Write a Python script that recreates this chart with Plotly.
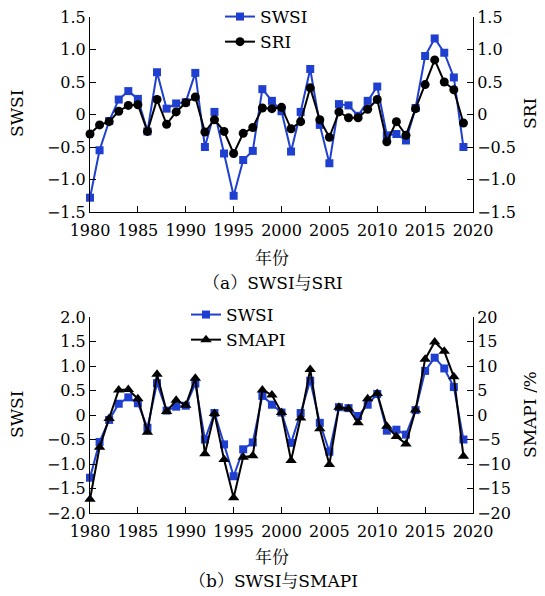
import plotly.graph_objects as go

years = list(range(1980, 2020))
swsi = [-1.28, -0.55, -0.10, 0.23, 0.36, 0.24, -0.26, 0.65, 0.09, 0.17,
        0.19, 0.64, -0.50, 0.04, -0.60, -1.25, -0.70, -0.56, 0.39, 0.21,
        0.05, -0.57, 0.04, 0.70, -0.16, -0.75, 0.16, 0.14, -0.02, 0.21,
        0.43, -0.32, -0.30, -0.40, 0.10, 0.90, 1.17, 0.95, 0.57, -0.50]
sri = [-0.30, -0.16, -0.11, 0.05, 0.14, 0.15, -0.26, 0.23, -0.15, 0.04,
       0.18, 0.27, -0.27, -0.08, -0.26, -0.60, -0.29, -0.20, 0.10, 0.09,
       0.11, -0.22, -0.11, 0.41, -0.08, -0.35, 0.04, -0.05, -0.05, 0.08,
       0.23, -0.42, -0.11, -0.32, 0.09, 0.46, 0.84, 0.50, 0.38, -0.13]
smapi = [-17.2, -6.6, -0.7, 5.1, 5.2, 3.3, -3.5, 8.3, 0.7, 3.0,
         2.0, 7.5, -7.9, 0.3, -9.1, -16.9, -8.6, -8.3, 5.1, 4.1,
         0.5, -9.3, -0.6, 9.3, -2.8, -10.1, 1.6, 1.3, -1.6, 3.3,
         4.4, -2.3, -4.4, -5.9, 1.0, 11.4, 14.9, 13.0, 7.8, -8.4]

xticks = [1980, 1985, 1990, 1995, 2000, 2005, 2010, 2015, 2020]
sri_ticks = [-1.5, -1.0, -0.5, 0, 0.5, 1.0, 1.5]
sri_text = ["−1.5", "−1.0", "−0.5", "0", "0.5", "1.0", "1.5"]
swsi2_ticks = [-2.0, -1.5, -1.0, -0.5, 0, 0.5, 1.0, 1.5, 2.0]
swsi2_text = ["−2.0", "−1.5", "−1.0", "−0.5", "0", "0.5", "1.0", "1.5", "2.0"]
smapi_ticks = [-20, -15, -10, -5, 0, 5, 10, 15, 20]
smapi_text = ["−20", "−15", "−10", "−5", "0", "5", "10", "15", "20"]

BLUE = "#1f3fd0"
FONT = "DejaVu Serif, Noto Serif CJK SC, Noto Sans CJK SC"
FS = 16

fig = go.Figure()
fig.add_trace(go.Scatter(x=years, y=swsi, name="SWSI", mode="lines+markers",
                         line=dict(color=BLUE, width=2), marker=dict(symbol="square", size=8, color=BLUE),
                         xaxis="x", yaxis="y", legend="legend", cliponaxis=False))
fig.add_trace(go.Scatter(x=years, y=sri, name="SRI", mode="lines+markers",
                         line=dict(color="black", width=2), marker=dict(symbol="circle", size=9, color="black"),
                         xaxis="x", yaxis="y2", legend="legend", cliponaxis=False))
fig.add_trace(go.Scatter(x=years, y=swsi, name="SWSI", mode="lines+markers",
                         line=dict(color=BLUE, width=2), marker=dict(symbol="square", size=8, color=BLUE),
                         xaxis="x2", yaxis="y3", legend="legend2", cliponaxis=False))
fig.add_trace(go.Scatter(x=years, y=smapi, name="SMAPI", mode="lines+markers",
                         line=dict(color="black", width=2), marker=dict(symbol="triangle-up", size=10, color="black"),
                         xaxis="x2", yaxis="y4", legend="legend2", cliponaxis=False))

# the page body has an 8px margin: figure is drawn from (8, 8)
OFF = 8
W, H = 545 - OFF, 596 - OFF
L, R, T, B = 90 - OFF, W - (473 - OFF), 17 - OFF, H - (513 - OFF)
pw, ph = W - L - R, H - T - B

def px(sx):
    return (sx - OFF - L) / pw

def py(sy):
    return (H - B - (sy - OFF)) / ph

top_dom = [py(212), 1.0]
bot_dom = [0.0, py(317)]

axis_common = dict(showline=True, linecolor="black", linewidth=1, ticks="inside", ticklen=6,
                   tickcolor="black", showgrid=False, zeroline=False, ticklabeloverflow="allow",
                   tickfont=dict(family=FONT, size=FS, color="black"))

fig.update_layout(
    width=W, height=H, margin=dict(l=L, r=R, t=T, b=B, autoexpand=False),
    paper_bgcolor="white", plot_bgcolor="white",
    font=dict(family=FONT, size=FS, color="black"),
    xaxis=dict(domain=[0, 1], anchor="y", range=[1980, 2020], tickvals=xticks, ticklabelstandoff=4, **axis_common),
    yaxis=dict(domain=top_dom, anchor="x", range=[-1.5, 1.5], tickvals=sri_ticks, ticktext=sri_text, **axis_common),
    yaxis2=dict(overlaying="y", side="right", anchor="x", range=[-1.5, 1.5], tickvals=sri_ticks, ticktext=sri_text, **axis_common),
    xaxis2=dict(domain=[0, 1], anchor="y3", range=[1980, 2020], tickvals=xticks, ticklabelstandoff=4, **axis_common),
    yaxis3=dict(domain=bot_dom, anchor="x2", range=[-2, 2], tickvals=swsi2_ticks, ticktext=swsi2_text, **axis_common),
    yaxis4=dict(overlaying="y3", side="right", anchor="x2", range=[-20, 20], tickvals=smapi_ticks, ticktext=smapi_text, **axis_common),
    legend=dict(x=px(220), y=py(-1), xanchor="left", yanchor="top", bgcolor="rgba(0,0,0,0)",
                font=dict(family=FONT, size=17), tracegroupgap=0, itemwidth=30),
    legend2=dict(x=px(186), y=py(297), xanchor="left", yanchor="top", bgcolor="rgba(0,0,0,0)",
                 font=dict(family=FONT, size=17), tracegroupgap=0, itemwidth=30),
)

def ann(text, x, y, angle=0, size=17):
    fig.add_annotation(text=text, x=px(x), y=py(y), xref="paper", yref="paper",
                       showarrow=False, textangle=angle, xanchor="center", yanchor="middle",
                       font=dict(family=FONT, size=size, color="black"))

ann("SWSI", 17, 114, -90)
ann("SRI", 530, 114, -90)
ann("SWSI", 17, 415, -90)
ann("SMAPI /%", 530, 415, -90)
ann("年份", 272, 258, size=17)
ann("（a）SWSI与SRI", 273, 283, size=17)
ann("年份", 272, 557, size=17)
ann("（b）SWSI与SMAPI", 273, 581, size=17)

fig.write_html("out.html")
